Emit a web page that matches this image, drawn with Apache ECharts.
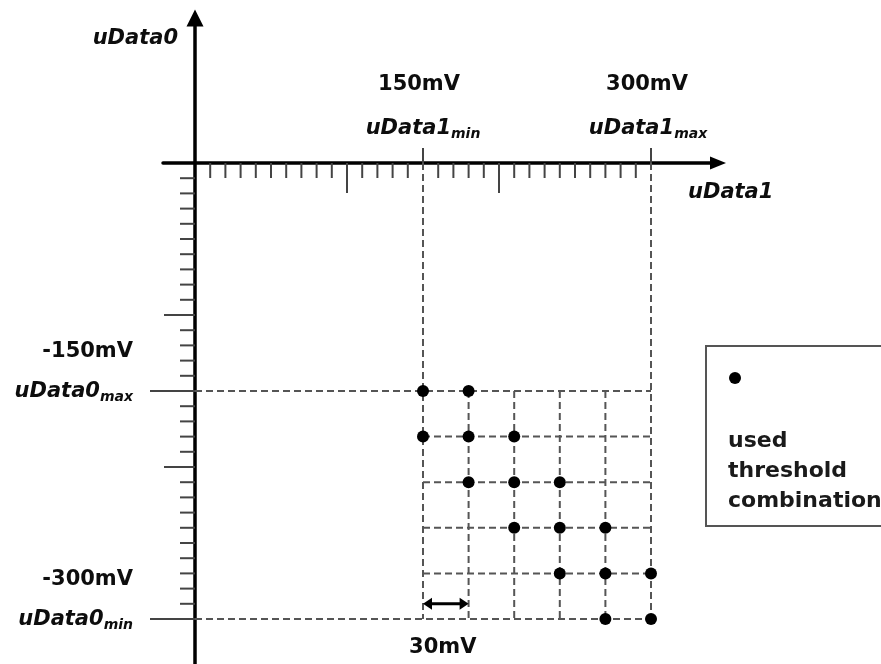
<!DOCTYPE html>
<html>
<head>
<meta charset="utf-8">
<script src="https://cdn.jsdelivr.net/npm/echarts@6/dist/echarts.min.js"></script>
<style>
  html, body { margin: 0; padding: 0; background: #fff; }
  #chart { width: 881px; height: 664px; }
</style>
</head>
<body>
<div id="chart"></div>
<script>
// Threshold grid, mV
const uData1Steps = [150, 180, 210, 240, 270, 300];
const uData0Steps = [-150, -180, -210, -240, -270, -300];

// Threshold pairs [uData1, uData0] that are actually used
const usedCombinations = [
  [150, -150], [180, -150],
  [150, -180], [180, -180], [210, -180],
  [180, -210], [210, -210], [240, -210],
  [210, -240], [240, -240], [270, -240],
  [240, -270], [270, -270], [300, -270],
  [270, -300], [300, -300]
];

// Axis ticks, mV
const uData1MinorTicks = [10, 20, 30, 40, 50, 60, 70, 80, 90, 110, 120, 130, 140,
  160, 170, 180, 190, 210, 220, 230, 240, 250, 260, 270, 280, 290];
const uData1MajorTicks = [100, 200];
const uData1Limits = [150, 300];
const uData1LimitLabels = ['150mV', '300mV'];
const uData1LimitNames = ['min', 'max'];

const uData0MinorTicks = [-10, -20, -30, -40, -50, -60, -70, -80, -90, -110, -120, -130, -140,
  -160, -170, -180, -190, -210, -220, -230, -240, -250, -260, -270, -280, -290];
const uData0MajorTicks = [-100, -200];
const uData0Limits = [-150, -300];
const uData0LimitLabels = ['-150mV', '-300mV'];
const uData0LimitNames = ['max', 'min'];

// One threshold step
const stepSpan = [150, 180];
const stepLevel = -290;
const stepLabel = '30mV';

const legendText = ['used', 'threshold', 'combination'];

// ---- layout ----
const W = 881, H = 664;
const PX = 1.52;               // pixels per mV
const ORIGIN = [195, 163];     // pixel position of (0 mV, 0 mV)
const GRID = { left: 163, top: 18, right: 163, bottom: 0 };
const xMin = -(ORIGIN[0] - GRID.left) / PX;
const xMax = (W - GRID.right - ORIGIN[0]) / PX;
const yMax = (ORIGIN[1] - GRID.top) / PX;
const yMin = -(H - GRID.bottom - ORIGIN[1]) / PX;

const FONT = 'DejaVu Sans';
const INK = '#0d0d0d';

function tickSeries(values, axis, len, dir) {
  return {
    type: 'custom',
    coordinateSystem: 'cartesian2d',
    silent: true,
    z: 3,
    data: values.map(v => axis === 'x' ? [v, 0] : [0, v]),
    renderItem(params, api) {
      const p = api.coord([api.value(0), api.value(1)]);
      const x2 = axis === 'x' ? p[0] : p[0] + dir * len;
      const y2 = axis === 'x' ? p[1] + dir * len : p[1];
      return {
        type: 'line',
        shape: { x1: p[0], y1: p[1], x2: x2, y2: y2 },
        style: { stroke: '#444', lineWidth: 2 }
      };
    }
  };
}

// dashed threshold grid: [x1, y1, x2, y2] in mV
const lastX = uData1Steps[uData1Steps.length - 1];
const lastY = uData0Steps[uData0Steps.length - 1];
const gridLines = [];
uData1Steps.forEach(x => {
  const from = uData1Limits.includes(x) ? 0 : uData0Steps[0];
  gridLines.push([x, from, x, lastY]);
});
uData0Steps.forEach(y => {
  const from = uData0Limits.includes(y) ? 0 : uData1Steps[0];
  gridLines.push([from, y, lastX, y]);
});

const boldItalic = { fontFamily: FONT, fontWeight: 'bold', fontStyle: 'italic', color: INK };
const richName = {
  n: Object.assign({ fontSize: 21, lineHeight: 24 }, boldItalic),
  s: Object.assign({ fontSize: 14, lineHeight: 11, verticalAlign: 'bottom' }, boldItalic)
};

function textPoint(value, text, align, offset, rich) {
  return {
    value: value,
    label: {
      show: true,
      position: 'inside',
      formatter: text,
      align: align,
      verticalAlign: 'middle',
      offset: offset,
      fontFamily: FONT,
      fontWeight: 'bold',
      fontSize: 21,
      color: INK,
      rich: rich || {}
    }
  };
}

const textItems = [
  // axis names
  textPoint([0, 0], '{n|uData0}', 'right', [-17, -124], richName),
  textPoint([lastX, 0], '{n|uData1}', 'left', [37, 30], richName),
  // uData1 limits
  textPoint([uData1Limits[0], 0], uData1LimitLabels[0], 'center', [-4, -78]),
  textPoint([uData1Limits[1], 0], uData1LimitLabels[1], 'center', [-4, -78]),
  textPoint([uData1Limits[0], 0], '{n|uData1}{s|' + uData1LimitNames[0] + '}', 'center', [0, -34], richName),
  textPoint([uData1Limits[1], 0], '{n|uData1}{s|' + uData1LimitNames[1] + '}', 'center', [-3, -34], richName),
  // uData0 limits
  textPoint([0, uData0Limits[0]], uData0LimitLabels[0], 'right', [-62, -39]),
  textPoint([0, uData0Limits[0]], '{n|uData0}{s|' + uData0LimitNames[0] + '}', 'right', [-62, 1], richName),
  textPoint([0, uData0Limits[1]], uData0LimitLabels[1], 'right', [-62, -39]),
  textPoint([0, uData0Limits[1]], '{n|uData0}{s|' + uData0LimitNames[1] + '}', 'right', [-62, 1], richName),
  // step width
  textPoint([(stepSpan[0] + stepSpan[1]) / 2, stepLevel], stepLabel, 'center', [-3, 44])
];

const chart = echarts.init(document.getElementById('chart'), null, { renderer: 'canvas' });

const hiddenParts = {
  axisTick: { show: false },
  axisLabel: { show: false },
  splitLine: { show: false }
};

const legendFont = { fontFamily: FONT, fontWeight: 'bold', fontSize: 22, fill: '#1a1a1a', verticalAlign: 'middle' };

chart.setOption({
  animation: false,
  backgroundColor: '#fff',
  grid: { left: GRID.left, right: GRID.right, top: GRID.top, bottom: GRID.bottom, containLabel: false },
  xAxis: Object.assign({
    type: 'value', min: xMin, max: xMax,
    axisLine: {
      show: true, onZero: true,
      symbol: ['none', 'triangle'], symbolSize: [13, 16],
      lineStyle: { color: '#000', width: 3.5 }
    }
  }, hiddenParts),
  yAxis: Object.assign({
    type: 'value', min: yMin, max: yMax,
    axisLine: {
      show: true, onZero: true,
      symbol: ['none', 'triangle'], symbolSize: [17, 17],
      lineStyle: { color: '#000', width: 3.5 }
    }
  }, hiddenParts),
  series: [
    {
      // dashed threshold grid
      type: 'custom',
      coordinateSystem: 'cartesian2d',
      silent: true,
      z: 1,
      data: gridLines,
      renderItem(params, api) {
        const a = api.coord([api.value(0), api.value(1)]);
        const b = api.coord([api.value(2), api.value(3)]);
        return {
          type: 'line',
          shape: { x1: a[0], y1: a[1], x2: b[0], y2: b[1] },
          style: { stroke: '#555', lineWidth: 2, lineDash: [7, 4] }
        };
      }
    },
    tickSeries(uData1MinorTicks, 'x', 15, 1),
    tickSeries(uData1MajorTicks, 'x', 30, 1),
    tickSeries(uData1Limits, 'x', 15, -1),
    tickSeries(uData0MinorTicks, 'y', 15, -1),
    tickSeries(uData0MajorTicks, 'y', 31, -1),
    tickSeries(uData0Limits, 'y', 45, -1),
    {
      // double-headed arrow marking one step
      type: 'custom',
      coordinateSystem: 'cartesian2d',
      silent: true,
      z: 4,
      data: [[stepSpan[0], stepLevel, stepSpan[1], stepLevel]],
      renderItem(params, api) {
        const a = api.coord([api.value(0), api.value(1)]);
        const b = api.coord([api.value(2), api.value(3)]);
        const L = 9, Hh = 6;
        return {
          type: 'group',
          children: [
            { type: 'line', shape: { x1: a[0] + 4, y1: a[1], x2: b[0] - 4, y2: b[1] },
              style: { stroke: '#000', lineWidth: 3 } },
            { type: 'polygon', shape: { points: [[a[0], a[1]], [a[0] + L, a[1] - Hh], [a[0] + L, a[1] + Hh]] },
              style: { fill: '#000' } },
            { type: 'polygon', shape: { points: [[b[0], b[1]], [b[0] - L, b[1] - Hh], [b[0] - L, b[1] + Hh]] },
              style: { fill: '#000' } }
          ]
        };
      }
    },
    {
      type: 'scatter',
      silent: true,
      z: 5,
      symbol: 'circle',
      symbolSize: 12,
      itemStyle: { color: '#000', opacity: 1 },
      data: usedCombinations
    },
    {
      type: 'scatter',
      silent: true,
      z: 6,
      symbolSize: 0,
      itemStyle: { color: '#fff', opacity: 1 },
      data: textItems
    }
  ],
  graphic: [
    {
      type: 'group',
      left: 705, top: 345,
      children: [
        { type: 'rect', shape: { x: 0, y: 0, width: 200, height: 180 },
          style: { fill: '#fff', stroke: '#555', lineWidth: 2 } },
        { type: 'circle', shape: { cx: 29, cy: 32, r: 6 }, style: { fill: '#000' } },
        { type: 'text', x: 22, y: 95, style: Object.assign({ text: legendText[0] }, legendFont) },
        { type: 'text', x: 22, y: 125, style: Object.assign({ text: legendText[1] }, legendFont) },
        { type: 'text', x: 22, y: 155, style: Object.assign({ text: legendText[2] }, legendFont) }
      ]
    }
  ]
});
</script>
</body>
</html>
